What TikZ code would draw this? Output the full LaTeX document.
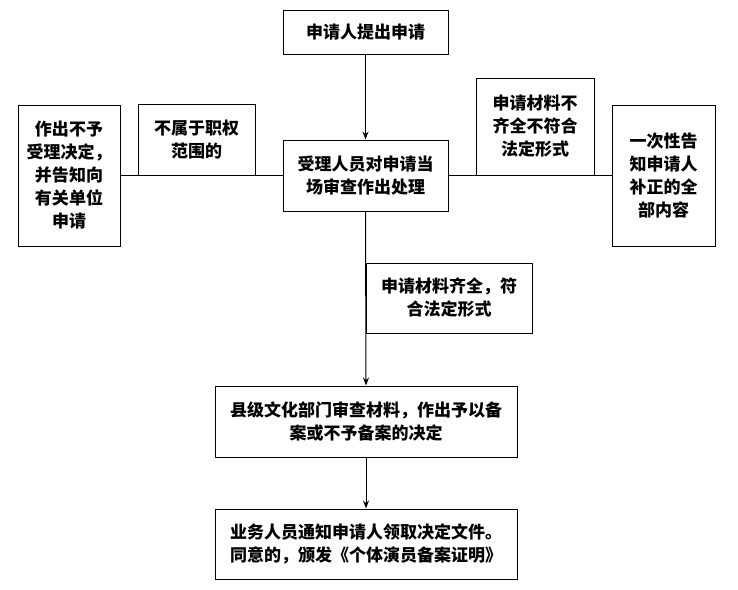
\documentclass[tikz,border=0pt]{standalone}
\usepackage{fontspec}
\setmainfont{Noto Sans CJK SC}
\usepackage{xcolor}
\usepackage{tikz}
\usetikzlibrary{arrows.meta}
\tikzstyle{box}=[rectangle,draw=black,line width=1pt,inner sep=0pt,align=center,
  font=\bfseries\fontsize{17}{23}\selectfont]
\tikzstyle{link}=[line width=1pt,draw=black]

\begin{document}
\begin{tikzpicture}[x=1pt,y=-1pt]
        \useasboundingbox (0,0) rectangle (738,589);
        \node at (365.5, 32) [box,minimum width=165,minimum height=44] (apply) {申请人提出申请};
        \node at (365.5,175.5) [box,minimum width=165,minimum height=71] (check) {受理人员对申请当\\场审查作出处理};
        \node at ( 69,175.5) [box,minimum width=102,minimum height=141] (refuse) {作出不予\\受理决定，\\并告知向\\有关单位\\申请};
        \node at (196.5,139.5) [box,minimum width=117,minimum height=71] (scope) {不属于职权\\范围的};
        \node at (535,126.5) [box,minimum width=118,minimum height=97] (lacking) {申请材料不\\齐全不符合\\法定形式};
        \node at (663.5,175.5) [box,minimum width=103,minimum height=141] (notify) {一次性告\\知申请人\\补正的全\\部内容};
        \node at (449,298) [box,minimum width=166,minimum height=70] (complete) {申请材料齐全，符\\合法定形式};
        \node at (366,421.5) [box,minimum width=302,minimum height=71] (decide) {县级文化部门审查材料，作出予以备\\案或不予备案的决定};
        \node at (366,544) [box,minimum width=302,minimum height=70] (issue) {业务人员通知申请人领取决定文件。\\同意的，颁发《个体演员备案证明》};
        \draw [link,-{Stealth[length=8pt,width=6pt]}] (apply) to (check);
        \draw [link] (check.west) to (refuse.east);
        \draw [link] (check.east) to (notify.west);
        \draw [link,-{Stealth[length=8pt,width=6pt]}] (check.south) to (decide.north);
        \draw [link,-{Stealth[length=8pt,width=6pt]}] (decide) to (issue);
      \end{tikzpicture}
\end{document}
